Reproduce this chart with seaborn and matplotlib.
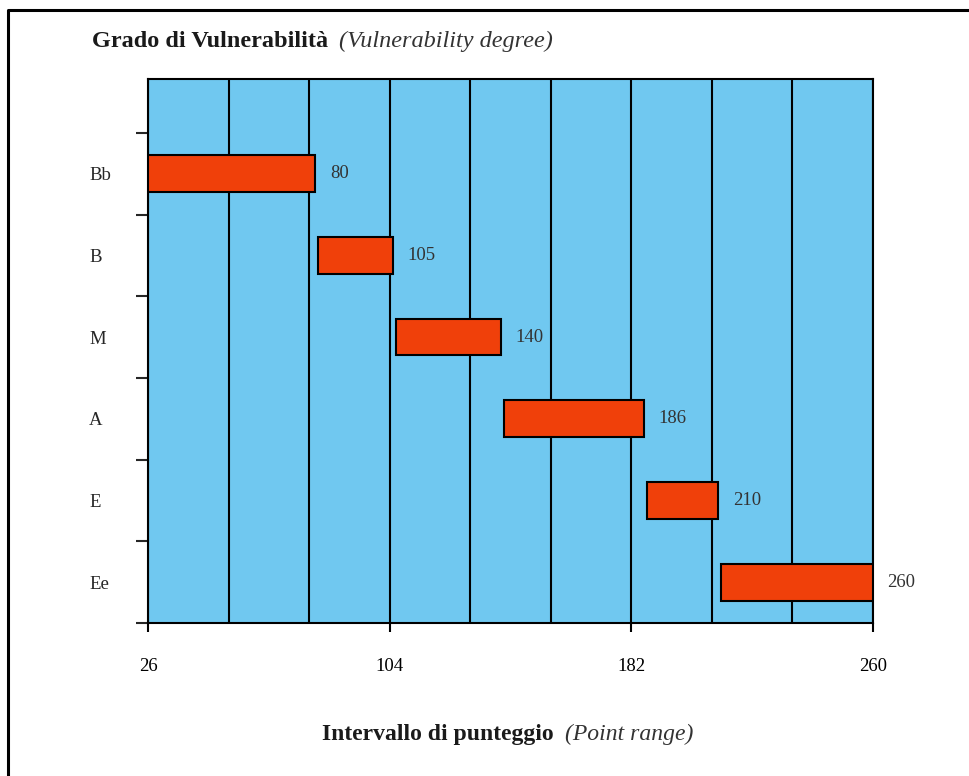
import numpy as np
import pandas as pd
import matplotlib
matplotlib.use("Agg")
import matplotlib.pyplot as plt
from matplotlib.lines import Line2D
import seaborn as sns

# =====================
# DATA
# =====================
categories = ["Bb", "B", "M", "A", "E", "Ee"]
starts = [26, 81, 106, 141, 187, 211]
ends = [80, 105, 140, 186, 210, 260]
xtick_values = [26, 104, 182, 260]
grid_values = [26, 52, 78, 104, 130, 156, 182, 208, 234, 260]

df = pd.DataFrame({"grado": categories, "inizio": starts, "fine": ends})

# =====================
# STYLE
# =====================
sns.set_style("white")
plt.rcParams["font.family"] = ["Liberation Serif", "DejaVu Serif"]

BLUE = "#70C8F0"
RED = "#F0400A"

fig = plt.figure(figsize=(9.69, 7.76), dpi=100)
ax = fig.add_axes([148 / 969, 1 - 623 / 776, (873 - 148) / 969, (623 - 79) / 776])
ax.set_facecolor(BLUE)

# barre flottanti: barplot dei valori finali, poi sposto l'inizio
sns.barplot(data=df, x="fine", y="grado", orient="h", color=RED, saturation=1,
            width=0.45, edgecolor="black", linewidth=1.5, ax=ax, zorder=3)
for patch, s, e in zip(ax.patches, df["inizio"], df["fine"]):
    patch.set_x(s)
    patch.set_width(e - s)

ax.set_xlim(26, 260)
ax.set_ylim(5.5, -1.16)
ax.set_xlabel("")
ax.set_ylabel("")

# asse x
ax.set_xticks(xtick_values)
ax.set_xticks(grid_values, minor=True)
ax.tick_params(axis="x", which="major", direction="out", length=6.5, width=1.5,
               bottom=True, pad=19, labelsize=13.5, colors="black")
ax.tick_params(axis="x", which="minor", length=0)
ax.xaxis.grid(True, which="both", color="black", linewidth=1.5)
ax.set_axisbelow(True)

# asse y: tacche ai confini, etichette al centro
ax.set_yticks(np.arange(-0.5, 6, 1), labels=[""] * 7)
ax.set_yticks(range(len(categories)), labels=categories, minor=True)
ax.tick_params(axis="y", which="major", direction="out", length=8.6, width=1.5, left=True)
ax.tick_params(axis="y", which="minor", length=0, pad=42.5, labelsize=13.5)
for lab in ax.get_yticklabels(minor=True):
    lab.set_ha("left")

for sp in ax.spines.values():
    sp.set_color("black")
    sp.set_linewidth(1.5)

# valori a destra delle barre
for i, e in enumerate(df["fine"]):
    ax.annotate(str(e), xy=(e, i), xytext=(10.5, 0), textcoords="offset points",
                va="center", ha="left", fontsize=13.5, color="#333333")

# titolo
t = fig.text(92 / 969, 1 - 47 / 776, "Grado di Vulnerabilità", fontweight="bold",
             fontsize=17.5, va="baseline", ha="left", color="#1a1a1a")
ax.annotate("(Vulnerability degree)", xy=(1, 0), xycoords=t, xytext=(8, 0),
            textcoords="offset points", style="italic", fontsize=17.5,
            va="bottom", ha="left", color="#333333")

# etichetta asse x
xl = fig.text(322 / 969, 1 - 740 / 776, "Intervallo di punteggio", fontweight="bold",
              fontsize=17, va="baseline", ha="left", color="#1a1a1a")
ax.annotate("(Point range)", xy=(1, 0), xycoords=xl, xytext=(8, 0),
            textcoords="offset points", style="italic", fontsize=17,
            va="bottom", ha="left", color="#333333")

# cornice
fig.add_artist(Line2D([8 / 969, 8 / 969, 1.1], [-0.1, 1 - 10 / 776, 1 - 10 / 776],
                      transform=fig.transFigure, color="black", linewidth=2.2))

fig.savefig("out.png", dpi=100)
